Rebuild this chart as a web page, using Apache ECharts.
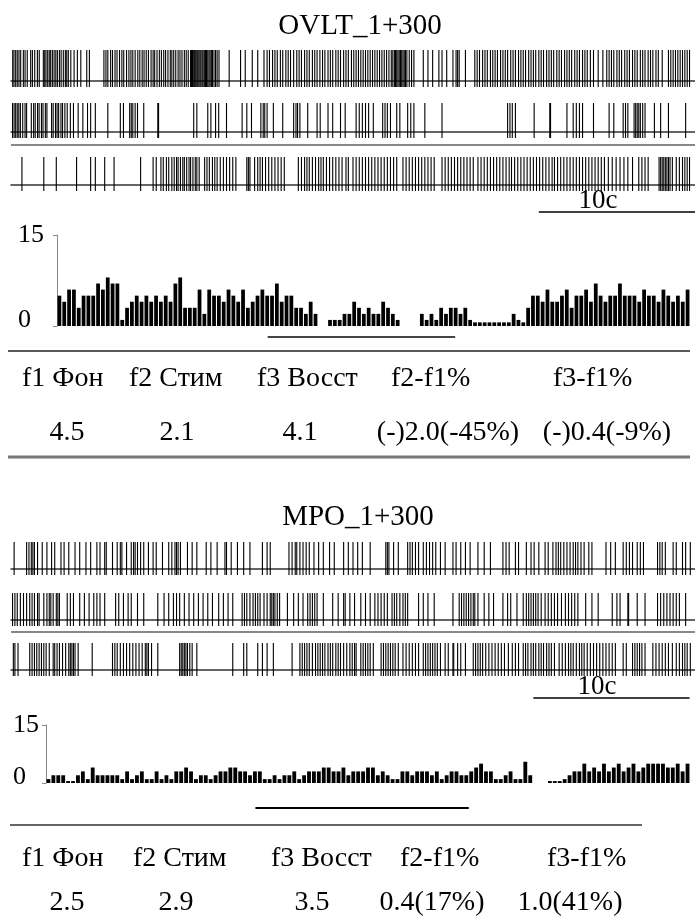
<!DOCTYPE html>
<html>
<head>
<meta charset="utf-8">
<script src="https://cdn.jsdelivr.net/npm/echarts@6/dist/echarts.min.js"></script>
<style>
html,body{margin:0;padding:0;background:#fff;}
#chart{width:695px;height:922px;}
</style>
</head>
<body>
<div id="chart"></div>
<script>
// ---------------- DATA ----------------
// Spike times (seconds from the start of each raster row; each row ≈ 43.8 s)
const ovltRow1 = [0.11,0.19,0.30,0.40,0.51,0.62,0.79,0.90,1.04,1.26,1.37,1.52,1.69,1.81,2.07,2.16,2.24,2.35,2.45,2.54,2.65,2.76,2.87,2.97,3.10,3.21,3.35,3.48,3.57,3.67,3.83,4.04,4.25,4.47,4.85,5.02,
5.95,6.08,6.2,6.38,6.5,6.66,6.79,6.95,7.1,7.22,7.4,7.55,7.68,7.8,7.95,8.12,8.25,8.4,8.52,8.66,8.8,8.97,9.1,9.2,9.35,9.5,9.63,9.78,9.9,10.05,10.2,10.3,10.42,10.55,10.7,10.82,10.95,11.1,11.22,11.35,11.5,11.56,11.62,11.7,11.76,11.83,11.9,11.96,12.03,12.1,12.16,12.24,12.3,12.38,12.45,12.52,12.6,12.68,12.75,12.83,12.9,13.0,13.1,13.2,13.32,
13.97,14.7,15.0,15.45,15.8,
16.2,16.4,16.55,16.75,16.9,17.05,17.25,17.4,17.6,17.75,17.9,18.1,18.3,18.45,18.6,18.8,18.95,19.1,19.3,19.45,19.6,19.78,19.95,20.1,20.3,20.45,20.6,20.8,20.95,21.1,21.3,21.45,21.6,21.8,21.95,22.1,22.25,22.4,22.55,22.7,22.85,23.0,23.15,23.3,23.45,23.6,23.75,23.9,24.05,24.2,24.35,24.45,24.55,24.62,24.7,24.78,24.86,24.94,25.02,25.1,25.18,25.26,25.35,25.5,25.65,25.8,
26.4,26.7,27.0,27.4,27.6,27.9,28.3,28.5,28.6,28.7,29.1,
29.7,29.85,30.0,30.2,30.35,30.5,30.7,30.85,31.0,31.15,31.35,31.5,31.65,31.8,32.0,32.15,32.3,32.5,32.65,32.8,32.95,33.15,33.3,33.45,33.6,33.8,33.95,34.1,34.3,34.45,34.6,34.75,34.95,35.1,35.25,35.45,35.6,35.75,35.9,36.1,36.25,36.4,36.6,36.75,36.9,37.1,
37.3,37.6,37.9,
38.15,38.3,38.45,38.6,38.8,38.95,39.1,39.3,39.45,39.6,39.8,39.95,40.1,40.3,40.45,40.6,40.8,40.95,41.1,41.3,41.45,
41.7,42.1,42.25,42.4,42.55,42.7,42.85,43.0,43.15,43.3,43.45];

const ovltRow2 = [0.1,0.2,0.3,0.4,0.5,0.6,0.75,0.9,1.0,
1.3,1.45,1.55,1.7,1.8,1.95,2.05,2.2,2.3,
2.6,2.7,2.85,2.95,3.05,3.2,3.3,3.45,3.6,
3.8,4.0,4.3,4.6,4.9,5.1,5.4,6.2,7.0,7.2,
7.6,7.7,7.8,7.95,8.1,8.5,9.4,9.45,
11.7,11.9,12.6,12.8,13.1,13.3,13.8,14.8,15.1,15.4,
16.0,16.15,16.25,16.4,16.8,17.4,18.1,18.25,18.35,18.5,19.0,19.6,19.8,20.3,20.6,21.1,21.4,
22.1,22.3,22.5,22.7,22.9,23.2,23.8,23.95,24.1,24.3,24.7,24.9,25.4,25.6,25.8,26.5,27.6,
31.8,31.95,32.1,32.3,33.5,34.5,34.55,35.6,36.0,36.2,36.4,36.6,37.3,38.3,38.6,39.2,39.35,39.5,
39.9,40.0,40.1,40.2,40.3,40.45,40.6,41.2,41.6,42.1,43.2];

const ovltRow3 = [0.7,2.1,2.9,4.2,5.1,5.4,6.0,6.6,8.3,9.1,9.3,
9.6,9.75,9.95,10.1,10.3,
10.45,10.6,10.7,10.85,11.0,11.1,11.25,11.4,11.5,11.65,11.8,11.9,12.05,
12.4,12.55,12.7,12.9,13.05,13.2,13.4,13.6,13.8,14.0,14.2,14.4,
15.1,15.2,15.3,
15.6,15.8,15.95,16.1,16.3,16.5,16.7,16.9,17.1,17.3,17.5,
18.4,18.6,18.8,18.95,19.1,19.3,19.5,19.7,19.85,20.0,20.2,20.4,20.6,20.8,21.0,21.2,21.45,21.6,
21.9,22.1,22.3,22.5,22.7,22.9,23.1,23.3,23.5,23.7,23.9,24.1,24.3,24.5,24.7,
25.1,25.3,25.5,25.7,25.9,26.1,26.3,26.5,26.7,26.9,27.1,
27.6,27.8,28.0,28.2,28.4,28.6,28.8,29.0,29.2,29.4,29.6,
29.9,30.1,30.3,30.5,30.7,30.9,31.1,31.3,31.5,31.7,31.9,32.05,
32.25,32.45,32.65,32.85,33.05,33.25,33.45,33.65,33.85,34.05,34.25,34.45,34.65,
34.8,35.0,35.2,35.4,35.6,35.8,36.0,36.2,36.4,36.6,36.8,37.0,37.2,
37.4,37.6,37.8,38.0,38.25,38.5,38.75,39.0,39.25,39.5,39.8,
40.2,40.4,40.6,40.8,
41.5,41.6,41.7,41.8,41.9,42.0,42.1,42.2,42.35,
42.6,42.8,43.0,43.15,43.3,43.45];

const mpoRow1 = [0.2,1.0,1.15,1.3,1.4,1.5,1.7,2.0,2.3,2.6,2.8,3.2,3.4,3.7,4.1,4.4,4.8,5.1,5.5,5.7,6.0,6.1,6.5,6.8,7.0,7.1,7.4,7.7,7.85,7.95,8.1,8.3,8.5,8.8,9.1,9.3,9.7,10.1,10.3,10.5,10.6,10.7,10.85,11.3,11.6,11.9,12.5,12.8,13.2,13.7,13.8,14.1,14.5,14.9,15.3,16.1,16.4,16.6,17.8,18.0,18.2,18.3,18.5,18.7,18.9,19.1,19.4,19.7,20.0,20.4,20.7,21.3,21.6,21.9,22.2,22.5,23.0,24.0,24.1,24.2,24.5,24.8,25.4,25.55,25.7,25.9,26.1,26.4,26.6,26.8,27.0,27.2,27.5,27.8,28.3,28.5,28.8,29.1,29.4,29.9,30.3,30.7,31.5,31.7,31.9,32.3,32.5,33.0,33.3,33.5,33.8,34.2,34.4,34.7,34.9,35.05,35.2,35.4,35.6,35.8,36.0,36.15,36.3,36.5,36.7,37.0,37.2,38.1,38.4,38.7,39.2,39.4,39.6,39.8,40.1,40.3,40.5,41.4,41.55,41.7,41.9,42.4,42.6,43.0,43.2,43.5];

const mpoRow2 = [0.1,0.25,0.4,0.6,0.8,1.0,1.2,1.35,1.5,1.7,1.8,2.1,2.3,2.45,2.55,2.7,2.9,3.0,3.1,3.6,3.8,4.0,4.4,4.7,5.0,5.3,5.5,5.7,6.0,6.7,6.9,7.2,7.5,7.7,8.1,8.5,9.4,9.8,10.1,10.4,10.6,10.8,11.1,11.4,11.7,12.0,12.3,12.6,12.9,13.3,13.6,13.9,14.2,14.8,14.95,15.1,15.3,15.5,15.65,15.8,15.95,16.2,16.4,16.6,16.7,16.8,16.9,17.05,17.2,17.7,18.1,18.4,18.7,19.0,19.15,19.3,19.45,19.6,20.0,20.6,20.95,21.3,21.4,21.7,22.0,22.4,22.7,23.0,23.3,23.5,23.7,23.9,24.1,24.4,24.55,24.7,24.9,25.1,25.25,25.4,26.1,26.4,26.7,27.1,28.3,28.7,28.85,29.0,29.15,29.3,29.45,29.6,29.7,29.9,30.3,30.6,30.9,31.5,31.8,32.0,32.4,32.8,33.0,33.15,33.3,33.45,33.6,33.75,33.95,34.2,34.4,34.6,34.8,35.0,35.25,35.5,35.7,35.9,36.1,36.3,36.8,37.2,37.6,38.5,38.8,39.0,39.5,39.55,40.1,40.6,41.4,41.6,41.8,42.0,42.2,42.4,42.6,42.8,43.2];

const mpoRow3 = [0.15,0.25,0.45,1.2,1.35,1.5,1.65,1.8,1.95,2.1,2.25,2.45,2.7,2.8,2.95,3.1,3.3,3.5,3.7,3.8,3.9,4.0,4.1,4.3,5.2,6.5,6.65,6.8,7.0,7.2,7.4,7.6,7.8,8.0,8.2,8.4,8.6,8.7,8.8,9.0,9.4,10.8,10.9,11.0,11.1,11.2,11.3,11.45,11.6,11.9,14.2,14.9,15.1,15.8,16.1,16.4,16.8,18.0,18.5,18.65,18.8,18.95,19.1,19.3,19.5,19.65,19.8,19.95,20.1,20.3,20.45,20.6,20.8,20.95,21.1,21.3,21.5,21.7,21.85,22.0,22.1,22.4,22.55,22.7,22.85,23.0,23.2,23.7,23.85,24.0,24.15,24.3,24.45,24.6,24.8,25.1,25.3,25.5,25.7,25.9,26.1,26.4,26.55,26.7,26.85,27.0,27.15,27.3,27.5,27.8,28.0,28.3,28.35,28.6,28.8,29.1,29.6,29.75,29.9,30.05,30.2,30.4,30.6,30.8,31.0,31.2,31.4,31.6,31.85,32.1,32.3,32.5,32.8,32.95,33.1,33.3,33.45,33.6,33.8,33.95,34.1,34.3,34.45,34.6,34.8,35.1,35.3,35.5,35.7,35.85,36.0,36.2,36.4,36.55,36.7,36.9,37.1,37.3,37.5,37.7,37.9,38.1,38.3,38.5,38.7,39.2,39.4,39.8,39.95,40.1,40.25,40.4,40.6,41.1,41.3,41.5,41.7,41.9,42.1,42.35,42.6,42.8,43.0,43.15,43.3,43.5];

// Histograms: spikes per 1-s bin (131 bins)
const ovltHist = [5,4,6,6,3,5,5,5,7,6,8,7,7,1,3,
4,5,4,5,4,5,4,5,4,7,8,
3,3,3,6,2,6,5,5,4,6,5,4,6,3,
4,5,6,5,5,7,4,5,5,3,3,2,4,2,
0,0,1,1,1,2,2,4,3,2,3,2,2,4,3,2,
1,0,0,0,0,
2,1,2,1,3,2,3,3,2,3,1,
0.6,0.6,0.6,0.6,0.6,0.6,0.6,0.6,2,1,0.6,
3,5,5,4,6,4,4,5,6,3,5,5,6,4,7,5,4,5,5,7,5,5,5,4,6,5,5,4,6,5,4,5,4,6];

const mpoHist = [1,2,2,2,0.5,0.5,2,3,1,4,2,2,2,2,2,1,
3,1,2,3,1,1,3,1,2,1,3,3,4,3,1,2,
2,1,2,3,3,4,4,3,3,2,3,3,
1,1,2,1,2,2,3,1,2,3,3,3,4,4,3,3,
4,2,3,3,3,4,4,2,3,2,1,1,3,3,2,3,
3,3,2,3,1,2,3,3,2,2,3,4,
5,3,3,1,1,2,3,1,1,5.5,2,0,0,0,0.5,0.5,
0.5,1,2,3,3,5,3,4,3,5,3,4,5,3,4,5,3,4,5,5,5,5,4,4,5,3,5];

// Stimulation period, in histogram bins
const ovltStim = [43.6, 82.4];
const mpoStim = [42.6, 86.0];
// 10-second scale bar, in raster seconds
const ovltScale = [33.8, 43.8];
const mpoScale = [33.45, 43.45];

const histTicks = [0, 15];
const titles = ['OVLT_1+300', 'MPO_1+300'];
const scaleLabel = '10c';
const tableHeaders = ['f1 Фон', 'f2 Стим', 'f3 Восст', 'f2-f1%', 'f3-f1%'];
const ovltValues = ['4.5', '2.1', '4.1', '(-)2.0(-45%)', '(-)0.4(-9%)'];
const mpoValues = ['2.5', '2.9', '3.5', '0.4(17%)', '1.0(41%)'];

// ---------------- LAYOUT / STYLE ----------------
const FONT = '"Liberation Serif","Times New Roman",serif';
const ROW_SEC = 43.8;
const SPIKE_LO = -0.22;
const grids = [], xAxes = [], yAxes = [], series = [];
function addGrid(g, x, y) {
  grids.push(g);
  const i = grids.length - 1;
  xAxes.push(Object.assign({gridIndex: i}, x));
  yAxes.push(Object.assign({gridIndex: i}, y));
  return i;
}
function rasterRow(data, top, height) {
  const i = addGrid({left: 11, right: 0, top: top, height: height},
    {type: 'value', min: 0, max: ROW_SEC,
     axisLine: {show: true, onZero: true, lineStyle: {color: '#333', width: 1.5}},
     axisTick: {show: false}, axisLabel: {show: false}, splitLine: {show: false}},
    {type: 'value', min: SPIKE_LO, max: 1, show: false});
  series.push({
    type: 'custom', xAxisIndex: i, yAxisIndex: i, silent: true, z: 3,
    data: data.map(t => [t, 0]),
    encode: {x: 0, y: 1},
    renderItem: function (params, api) {
      const a = api.coord([api.value(0), SPIKE_LO]);
      const b = api.coord([api.value(0), 1]);
      return {type: 'line', shape: {x1: a[0], y1: a[1], x2: b[0], y2: b[1]},
              style: {stroke: '#000', lineWidth: 1.1}};
    }
  });
}
function histogram(data, left, top, height, labelMargin) {
  const i = addGrid({left: left, right: 5, top: top, height: height},
    {type: 'category', data: data.map((_, k) => k + 1), boundaryGap: true,
     axisLine: {show: false}, axisTick: {show: false}, axisLabel: {show: false}},
    {type: 'value', min: histTicks[0], max: histTicks[1], interval: histTicks[1] - histTicks[0],
     axisLine: {show: true, lineStyle: {color: '#888', width: 1}},
     axisTick: {show: true, length: 4, lineStyle: {color: '#888'}},
     splitLine: {show: false},
     axisLabel: {align: 'left', margin: labelMargin,
       formatter: v => v === histTicks[0] ? '{z|' + v + '}' : '{n|' + v + '}',
       rich: {
         z: {fontFamily: FONT, fontSize: 26, color: '#000', padding: [0, 0, 12, 0]},
         n: {fontFamily: FONT, fontSize: 26, color: '#000'}
       }}});
  series.push({type: 'bar', xAxisIndex: i, yAxisIndex: i, data: data, silent: true,
    barCategoryGap: '22%', itemStyle: {color: '#000'}});
}
function hLineSeries(range, left, right, top, max, color, width) {
  const i = addGrid({left: left, right: right, top: top, height: 2},
    {type: 'value', min: 0, max: max, show: false},
    {type: 'value', min: -1, max: 1, show: false});
  series.push({type: 'line', xAxisIndex: i, yAxisIndex: i, silent: true,
    data: range.map(v => [v, 0]), symbol: 'none',
    lineStyle: {color: color, width: width}});
}

// OVLT block
rasterRow(ovltRow1, 50, 37);
rasterRow(ovltRow2, 103, 35);
rasterRow(ovltRow3, 157, 34);
hLineSeries(ovltScale, 11, 0, 211, ROW_SEC, '#000', 1.5);
histogram(ovltHist, 57, 235, 91, 39);
hLineSeries(ovltStim, 57, 5, 336, ovltHist.length, '#444', 2);
// MPO block
rasterRow(mpoRow1, 542, 33);
rasterRow(mpoRow2, 593, 33);
rasterRow(mpoRow3, 643, 33);
hLineSeries(mpoScale, 11, 0, 697, ROW_SEC, '#000', 1.5);
histogram(mpoHist, 46, 725, 58, 33);
hLineSeries(mpoStim, 46, 5, 807, mpoHist.length, '#000', 2);

function txt(text, x, y, size, align) {
  return {type: 'text', x: x, y: y, silent: true,
    style: {text: text, font: size + 'px ' + FONT, fill: '#000',
            textAlign: align || 'center', textVerticalAlign: 'middle'}};
}
function rule(x1, x2, y, color, w) {
  return {type: 'line', silent: true, shape: {x1: x1, y1: y, x2: x2, y2: y},
          style: {stroke: color, lineWidth: w}};
}
const headerX = [[22, 129, 257, 391, 553], [22, 133, 271, 400, 547]];
const valueX = [[67, 177, 300, 448, 607], [67, 176, 312, 432, 570]];
const graphics = [
  txt(titles[0], 360, 26, 29),
  txt(titles[1], 358, 517, 29),
  txt(scaleLabel, 598, 201, 27),
  txt(scaleLabel, 597, 687, 27),
  rule(11, 695, 145, '#888', 2),
  rule(11, 695, 632, '#888', 2),
  rule(8, 690, 351, '#222', 1.5),
  rule(8, 690, 457, '#777', 3),
  rule(10, 642, 825, '#333', 1.5)
];
tableHeaders.forEach((h, k) => {
  graphics.push(txt(h, headerX[0][k], 379, 28, 'left'));
  graphics.push(txt(h, headerX[1][k], 859, 28, 'left'));
});
ovltValues.forEach((v, k) => graphics.push(txt(v, valueX[0][k], 433, 28)));
mpoValues.forEach((v, k) => graphics.push(txt(v, valueX[1][k], 903, 28)));

const chart = echarts.init(document.getElementById('chart'), null, {renderer: 'canvas'});
chart.setOption({
  animation: false,
  backgroundColor: '#fff',
  grid: grids, xAxis: xAxes, yAxis: yAxes, series: series,
  graphic: graphics
});
</script>
</body>
</html>
